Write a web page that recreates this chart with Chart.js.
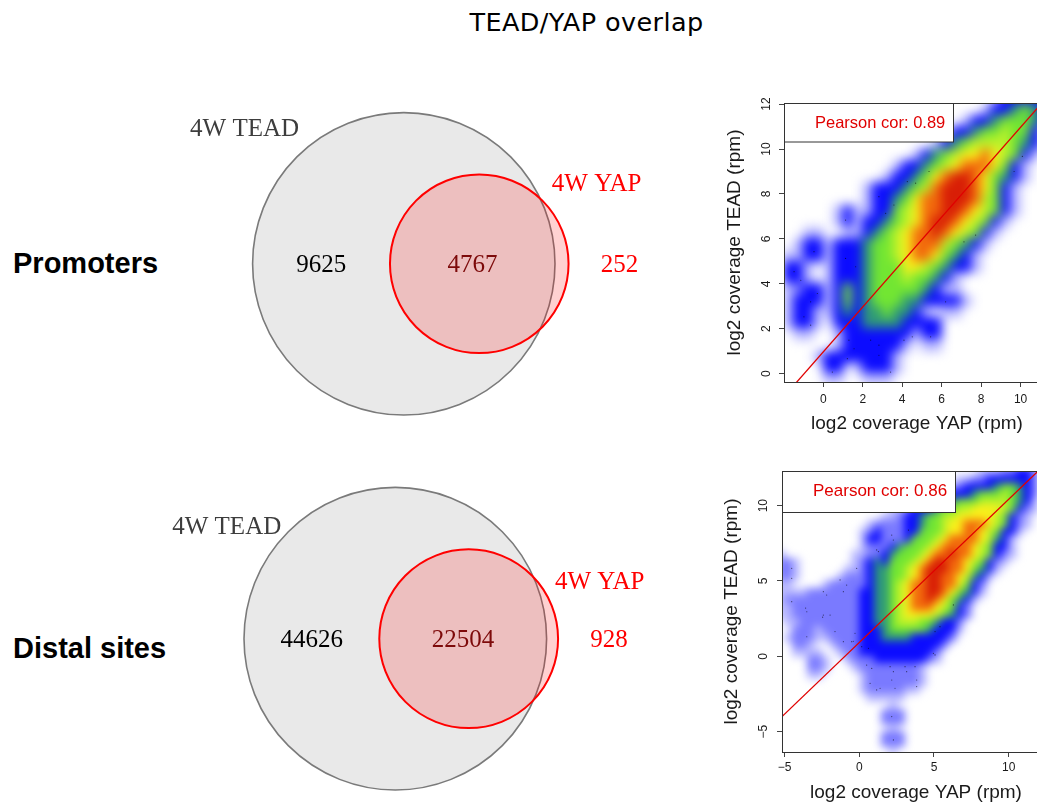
<!DOCTYPE html>
<html><head><meta charset="utf-8"><title>TEAD/YAP overlap</title>
<script src="https://cdn.jsdelivr.net/npm/chart.js@4.4.1/dist/chart.umd.min.js"></script>
<style>
html,body{margin:0;padding:0;background:#fff;overflow:hidden;}
body{width:1037px;height:802px;position:relative;}
canvas{position:absolute;}
.t{position:absolute;white-space:nowrap;line-height:1;margin:0;color:#000;}
</style></head>
<body>
<div class="t" style="font-family:'DejaVu Sans';font-size:25.5px;letter-spacing:0.4px;left:586.5px;top:10px;transform:translateX(-50%);">TEAD/YAP overlap</div>
<div class="t" style="font-family:'Liberation Sans';font-weight:bold;font-size:29px;left:13px;top:248.8px;">Promoters</div>
<div class="t" style="font-family:'Liberation Sans';font-weight:bold;font-size:29px;left:13px;top:633.8px;">Distal sites</div>
<canvas id="vennProm" width="530" height="340" style="left:150px;top:90px;"></canvas>
<canvas id="vennDist" width="530" height="342" style="left:150px;top:460px;"></canvas>
<canvas id="scatProm" width="360" height="360" style="left:700px;top:85px;"></canvas>
<canvas id="scatDist" width="360" height="357" style="left:700px;top:455px;"></canvas>
<script>
// ---------------- data ----------------
const setNames = ['4W TEAD', '4W YAP'];
// [only TEAD, TEAD & YAP, only YAP]
const promCounts = [9625, 4767, 252];
const distCounts = [44626, 22504, 928];

const promXRange = [-1.99, 11.49];
const promYRange = [-0.37, 12.05];
const promXTicks = [0, 2, 4, 6, 8, 10];
const promYTicks = [0, 2, 4, 6, 8, 10, 12];
const distXRange = [-5.18, 12.77];
const distYRange = [-6.35, 12.3];
const distXTicks = [-5, 0, 5, 10];
const distYTicks = [-5, 0, 5, 10];

// regression line [intercept, slope] and Pearson correlation
const promFit = [0.97, 1.0];
const distFit = [0.92, 0.95];
const promCor = 0.89;
const distCor = 0.86;

// smoothed density classes (0 = empty ... 9 = densest), 0.5-unit cells,
// rows from top (high TEAD) to bottom, columns from low YAP to high YAP
const gridStep = 0.5;
const promGridOrigin = [-2, 12.5];
const promGrid = [
  "000000000000000000000133333",
  "000000000000000000001334543",
  "000000000000000000133455543",
  "000000000000000013345565531",
  "000000000000000134566665431",
  "000000000000013456778765310",
  "000000000001334567888753100",
  "000000000013345789987543100",
  "000000001333456899987531000",
  "000000001334578899986531000",
  "000001311335678899876531000",
  "000001313345678998765310000",
  "001100113456788987653100000",
  "013313334556788865431000000",
  "113313334556788754310000000",
  "331013334555776543310000000",
  "331013334555655431000000000",
  "123313534555554311000000000",
  "133313534555443333100000000",
  "133113434454431011000000000",
  "133103334444333300000000000",
  "011001333333313300000000000",
  "000001333333101100000000000",
  "000133333331000000000000000",
  "000033013331000000000000000",
  "000011001110000000000000000"
];
const distGridOrigin = [-5.5, 12.5];
const distGrid = [
  "00000000000000000000000000011122332",
  "00000000000000000000000011223333332",
  "00000000000000000000001223333455432",
  "00000000000000000001123333455565432",
  "00000000000000000122333455566665431",
  "00000000000000011233345566777765321",
  "00000000000000112334556677777653210",
  "00000000000012222334556778887653210",
  "00000000000123222335556778876533100",
  "00000000000133222355567888876431000",
  "00000000000122234555678888765331000",
  "10000000001122345556788988765321000",
  "22100000001234355567899887653210000",
  "22100000011234455678999887543100000",
  "22100000122234455678998876431000000",
  "11000012222234456788998875320000000",
  "11112222222334456788998754310000000",
  "12222222222334456788987543100000000",
  "11222222222334456788876532000000000",
  "11222222222334456777765432000000000",
  "01122222222334456665543320000000000",
  "00222122222333455555433310000000000",
  "01222112222333444433333200000000000",
  "00221001222333333333332000000000000",
  "00111100122333333333320000000000000",
  "00002210012223333333210000000000000",
  "00002210001222222221000000000000000",
  "00001100000122222221000000000000000",
  "00000000000122222221000000000000000",
  "00000000000122222110000000000000000",
  "00000000000011111000000000000000000",
  "00000000000000010000000000000000000",
  "00000000000000222000000000000000000",
  "00000000000000222000000000000000000",
  "00000000000000010000000000000000000",
  "00000000000000222000000000000000000",
  "00000000000000222000000000000000000",
  "00000000000000010000000000000000000"
];
const densityPalette = ['rgba(0,0,0,0)', '#b8b8ff', '#7a7aff', '#0c0cff', '#2f9a78',
                        '#72e632', '#bdf22a', '#faf01a', '#f26a0c', '#d81e06'];

// isolated observations in low-density areas (YAP, TEAD)
const promDots = [
  [-0.47, 5.43], [-1.48, 4.54], [-1.14, 4.16], [-0.30, 3.57], [-0.64, 3.20], [-0.98, 2.53],
  [-0.64, 2.16], [1.13, 5.13], [1.64, 4.76], [1.30, 1.49], [1.56, 1.11], [2.40, 1.49],
  [2.82, 1.27], [1.22, 0.67], [2.82, 0.82], [3.41, 0.07], [0.46, 0.07], [5.44, 1.64],
  [6.20, 3.20], [4.09, 1.49], [4.51, 1.64], [1.13, 6.84], [2.82, 7.88], [3.58, 7.51],
  [3.16, 7.14], [4.26, 8.55], [4.68, 8.48], [5.36, 9.00], [9.67, 9.00], [10.09, 9.67],
  [7.72, 6.17], [7.13, 5.87]
];
const distDots = [
  [-3.52, 2.96], [-2.41, 2.74], [-1.96, 2.74], [-1.63, 1.64], [-1.07, 0.97], [-0.51, 0.97],
  [-0.29, 1.53], [0.16, 0.64], [0.61, 0.53], [0.49, -0.58], [0.83, -0.80], [1.39, -2.12],
  [1.16, -2.23], [0.72, -1.79], [2.06, -0.69], [2.28, -1.02], [3.06, -0.69], [3.17, -1.02],
  [3.73, -0.69], [2.17, -1.57], [2.39, -2.12], [3.84, -1.57], [3.84, -2.01], [4.96, 0.20],
  [5.07, 0.09], [5.40, 1.97], [5.07, 1.64], [2.17, -4.00], [2.28, -5.55], [-3.52, 1.30],
  [-4.53, 5.84], [-4.53, 5.18], [-4.53, 3.63], [-2.41, 4.29], [-2.19, 4.07], [-1.29, 5.07],
  [-1.07, 4.29], [-0.85, 4.73], [-0.18, 5.84], [1.16, 7.06], [1.28, 6.95], [2.17, 8.05],
  [2.28, 7.72], [3.29, 8.38], [6.30, 3.41], [-3.60, 3.20], [-2.46, 2.60], [-0.40, 1.00]
];

// ---------------- rendering ----------------
Chart.defaults.font.family = '"Liberation Sans", Arial, Helvetica, sans-serif';
Chart.defaults.color = '#1a1a1a';
Chart.defaults.animation = false;

const fmt = v => (v < 0 ? '\u2212' + Math.abs(v) : String(v));

function densityPlugin(grid, origin, blur) {
  return {
    id: 'density',
    beforeDatasetsDraw(chart) {
      const {ctx, chartArea: a, scales: {x, y}} = chart;
      const off = document.createElement('canvas');
      off.width = chart.width; off.height = chart.height;
      const o = off.getContext('2d');
      grid.forEach((row, j) => {
        for (let i = 0; i < row.length; i++) {
          const lv = +row[i];
          if (!lv) continue;
          const xl = Math.floor(x.getPixelForValue(origin[0] + i * gridStep));
          const xr = Math.ceil(x.getPixelForValue(origin[0] + (i + 1) * gridStep));
          const yt = Math.floor(y.getPixelForValue(origin[1] - j * gridStep));
          const yb = Math.ceil(y.getPixelForValue(origin[1] - (j + 1) * gridStep));
          o.fillStyle = densityPalette[lv];
          o.fillRect(xl, yt, xr - xl, yb - yt);
        }
      });
      ctx.save();
      ctx.beginPath();
      ctx.rect(a.left, a.top, a.right - a.left, a.bottom - a.top);
      ctx.clip();
      ctx.filter = 'blur(' + blur + 'px)';
      ctx.drawImage(off, 0, 0);
      ctx.restore();
    }
  };
}

function framePlugin(o) {
  return {
    id: 'frame',
    afterDraw(chart) {
      const {ctx, chartArea: a, scales: {y}} = chart;
      ctx.save();
      ctx.strokeStyle = '#333';
      ctx.lineWidth = 1;
      ctx.strokeRect(a.left + 0.5, a.top + 0.5, a.right - a.left, a.bottom - a.top);
      ctx.fillStyle = '#fff';
      ctx.fillRect(a.left + 0.5, a.top + 0.5, o.legW, o.legH);
      ctx.strokeRect(a.left + 0.5, a.top + 0.5, o.legW, o.legH);
      ctx.fillStyle = '#e00000';
      ctx.font = o.legFont + 'px "Liberation Sans"';
      ctx.textAlign = 'left';
      ctx.textBaseline = 'middle';
      ctx.fillText('Pearson cor: ' + o.cor.toFixed(2), a.left + o.legTextX, a.top + o.legTextY);
      ctx.fillStyle = '#1a1a1a';
      ctx.font = '12px "Liberation Sans"';
      ctx.textAlign = 'center';
      y.ticks.forEach(t => {
        const py = y.getPixelForValue(t.value);
        ctx.save();
        ctx.translate(a.left - o.yLabOff, py);
        ctx.rotate(-Math.PI / 2);
        ctx.fillText(fmt(t.value), 0, 0);
        ctx.restore();
      });
      ctx.restore();
    }
  };
}

function scatterChart(id, o) {
  const fitLine = o.xRange.map(x => ({x: x, y: o.fit[0] + o.fit[1] * x}));
  return new Chart(document.getElementById(id), {
    type: 'scatter',
    data: {datasets: [
      {type: 'line', label: 'fit', data: fitLine, borderColor: '#e00000', borderWidth: 1.3,
       pointRadius: 0, tension: 0, fill: false, order: 0},
      {type: 'scatter', label: 'points', data: o.dots.map(p => ({x: p[0], y: p[1]})),
       pointRadius: 0.6, borderWidth: 0, backgroundColor: 'rgba(0,0,0,0.6)', order: 1}
    ]},
    options: {
      responsive: false, animation: false, events: [],
      layout: {padding: {top: o.padTop, right: 10, left: 0, bottom: 0}},
      plugins: {legend: {display: false}, tooltip: {enabled: false}},
      scales: {
        x: {
          type: 'linear', min: o.xRange[0], max: o.xRange[1],
          afterBuildTicks: s => { s.ticks = o.xTicks.map(v => ({value: v})); },
          afterFit: s => { s.height = o.xAxisH; },
          ticks: {font: {size: 12}, padding: o.xTickPad, maxRotation: 0, autoSkip: false, callback: v => fmt(v)},
          grid: {drawOnChartArea: false, drawTicks: true, tickLength: 5, color: '#444'},
          border: {display: false},
          title: {display: true, text: 'log2 coverage YAP (rpm)', font: {size: 19}, padding: {top: 0, bottom: o.xTitlePad}}
        },
        y: {
          type: 'linear', min: o.yRange[0], max: o.yRange[1],
          afterBuildTicks: s => { s.ticks = o.yTicks.map(v => ({value: v})); },
          afterFit: s => { s.width = o.yAxisW; },
          ticks: {display: false},
          grid: {drawOnChartArea: false, drawTicks: true, tickLength: 5, color: '#444'},
          border: {display: false},
          title: {display: true, text: 'log2 coverage TEAD (rpm)', font: {size: 19}, padding: {top: o.yTitlePad, bottom: 0}}
        }
      }
    },
    plugins: [densityPlugin(o.grid, o.gridOrigin, o.blur), framePlugin(o)]
  });
}

scatterChart('scatProm', {
  xRange: promXRange, yRange: promYRange, xTicks: promXTicks, yTicks: promYTicks,
  fit: promFit, cor: promCor, grid: promGrid, gridOrigin: promGridOrigin, blur: 5.5, dots: promDots,
  padTop: 18, xAxisH: 63, yAxisW: 84, xTickPad: 5, xTitlePad: 9.6, yTitlePad: 23.6,
  legW: 169, legH: 38.5, legFont: 16.5, legTextX: 31, legTextY: 20, yLabOff: 17.3
});
scatterChart('scatDist', {
  xRange: distXRange, yRange: distYRange, xTicks: distXTicks, yTicks: distYTicks,
  fit: distFit, cor: distCor, grid: distGrid, gridOrigin: distGridOrigin, blur: 4.5, dots: distDots,
  padTop: 16, xAxisH: 60, yAxisW: 82, xTickPad: 3, xTitlePad: 8.1, yTitlePad: 20.3,
  legW: 173, legH: 41, legFont: 17, legTextX: 31, legTextY: 20.6, yLabOff: 18.4
});

// ---- area-proportional Venn ----
function lensArea(r1, r2, d) {
  if (d >= r1 + r2) return 0;
  if (d <= Math.abs(r1 - r2)) return Math.PI * Math.min(r1, r2) ** 2;
  const a1 = Math.acos((d * d + r1 * r1 - r2 * r2) / (2 * d * r1));
  const a2 = Math.acos((d * d + r2 * r2 - r1 * r1) / (2 * d * r2));
  return r1 * r1 * a1 + r2 * r2 * a2 -
    0.5 * Math.sqrt((-d + r1 + r2) * (d + r1 - r2) * (d - r1 + r2) * (d + r1 + r2));
}
function solveDistance(r1, r2, target) {
  let lo = Math.abs(r1 - r2), hi = r1 + r2;
  for (let k = 0; k < 80; k++) {
    const m = (lo + hi) / 2;
    if (lensArea(r1, r2, m) > target) lo = m; else hi = m;
  }
  return (lo + hi) / 2;
}

function vennChart(id, counts, L) {
  const nA = counts[0] + counts[1], nB = counts[1] + counts[2];
  const rA = 1, rB = Math.sqrt(nB / nA);
  const d = solveDistance(rA, rB, Math.PI * counts[1] / nA);
  const cvs = document.getElementById(id);
  const W = cvs.width, H = cvs.height;
  const cx = L.cx - L.left, cy = L.cy - L.top;
  const rpx = (chart, r) => chart.scales.x.getPixelForValue(r) - chart.scales.x.getPixelForValue(0);
  return new Chart(cvs, {
    type: 'scatter',
    data: {datasets: [
      {label: setNames[1], data: [{x: d, y: 0}], order: 0, clip: false,
       backgroundColor: 'rgba(255,0,0,0.18)', borderColor: '#ff0000', borderWidth: 2,
       pointRadius: c => rpx(c.chart, rB), pointHoverRadius: c => rpx(c.chart, rB)},
      {label: setNames[0], data: [{x: 0, y: 0}], order: 1, clip: false,
       backgroundColor: '#e9e9e9', borderColor: '#7a7a7a', borderWidth: 1.6,
       pointRadius: c => rpx(c.chart, rA), pointHoverRadius: c => rpx(c.chart, rA)}
    ]},
    options: {
      responsive: false, animation: false, events: [],
      layout: {padding: 0},
      plugins: {legend: {display: false}, tooltip: {enabled: false}},
      scales: {
        x: {type: 'linear', display: false, min: -cx / L.r, max: (W - cx) / L.r},
        y: {type: 'linear', display: false, min: -(H - cy) / L.r, max: cy / L.r}
      }
    },
    plugins: [{
      id: 'vennLabels',
      afterDatasetsDraw(chart) {
        const ctx = chart.ctx, sx = chart.scales.x, sy = chart.scales.y;
        ctx.save();
        ctx.font = '25px "Liberation Serif", "Times New Roman", serif';
        ctx.textAlign = 'center';
        ctx.textBaseline = 'alphabetic';
        const put = (txt, x, y, col) => {
          ctx.fillStyle = col;
          ctx.fillText(txt, sx.getPixelForValue(x), sy.getPixelForValue(y) + 8.4);
        };
        put(String(counts[0]), (-rA + d - rB) / 2, 0, '#000');
        put(String(counts[1]), (d - rB + rA) / 2, 0, '#7d0a0a');
        put(String(counts[2]), d + rB * 1.57, 0, '#ff0000');
        put(setNames[0], L.nameA[0], L.nameA[1], '#3d3d3d');
        put(setNames[1], d + L.nameB[0], L.nameB[1], '#ff0000');
        ctx.restore();
      }
    }]
  });
}

vennChart('vennProm', promCounts, {left: 150, top: 90, cx: 403.8, cy: 263.8, r: 151.2,
  nameA: [-1.053, 0.898], nameB: [0.776, 0.539]});
vennChart('vennDist', distCounts, {left: 150, top: 460, cx: 395.3, cy: 638.7, r: 151.3,
  nameA: [-1.114, 0.748], nameB: [0.866, 0.381]});
</script>
</body></html>
